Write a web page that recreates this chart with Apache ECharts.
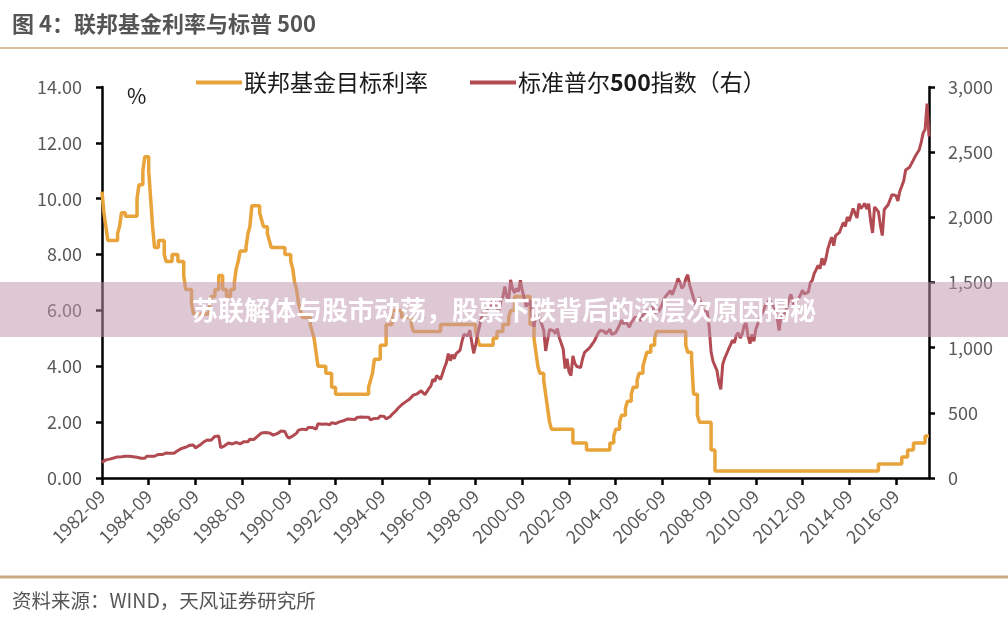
<!DOCTYPE html>
<html>
<head>
<meta charset="utf-8">
<script src="https://cdn.jsdelivr.net/npm/echarts@6/dist/echarts.min.js"></script>
<style>
html,body{margin:0;padding:0;background:#fff;}
#chart{width:1008px;height:620px;}
</style>
</head>
<body>
<div id="chart"></div>
<script>
// ---- Data ----
const titleText = '图 4：联邦基金利率与标普 500';
const sourceText = '资料来源：WIND，天风证券研究所';
const bannerText = '苏联解体与股市动荡，股票下跌背后的深层次原因揭秘';
const seriesNames = ['联邦基金目标利率', '标准普尔500指数（右）'];
const leftTicks = [0, 14, 2];      // min, max, interval
const rightTicks = [0, 3000, 500];

// monthly categories 1982-09 .. 2018-02
const categories = [];
for (let y = 1982; y <= 2018; y++) {
  for (let m = 1; m <= 12; m++) {
    if (y === 1982 && m < 9) continue;
    if (y === 2018 && m > 2) break;
    categories.push(y + '-' + String(m).padStart(2, '0'));
  }
}

// Fed funds target rate: month when the level changes, and the new level (%)
const fedMonths = ['1982-09','1982-10','1982-11','1982-12','1983-05','1983-06','1983-07','1983-09',
 '1984-03','1984-04','1984-06','1984-07','1984-09','1984-10','1984-11','1984-12','1985-02','1985-05',
 '1985-06','1985-09','1985-12','1986-03','1986-04','1986-07','1986-08','1987-04','1987-05','1987-07',
 '1987-09','1987-11','1988-01','1988-03','1988-05','1988-06','1988-07','1988-08','1988-11','1988-12',
 '1989-01','1989-02','1989-06','1989-07','1989-08','1989-10','1989-11','1989-12','1990-07','1990-10',
 '1990-11','1990-12','1991-01','1991-02','1991-03','1991-04','1991-08','1991-09','1991-10','1991-11',
 '1991-12','1992-04','1992-07','1992-09','1994-02','1994-03','1994-04','1994-05','1994-08','1994-11',
 '1995-02','1995-07','1995-12','1996-01','1997-03','1998-09','1998-10','1998-11','1999-06','1999-08',
 '1999-11','2000-02','2000-03','2000-05','2001-01','2001-03','2001-04','2001-05','2001-06','2001-08',
 '2001-09','2001-10','2001-11','2001-12','2002-11','2003-06','2004-06','2004-08','2004-09','2004-11',
 '2004-12','2005-02','2005-03','2005-05','2005-06','2005-08','2005-09','2005-11','2005-12','2006-01',
 '2006-03','2006-05','2006-06','2007-09','2007-10','2007-12','2008-01','2008-03','2008-04','2008-10',
 '2008-12','2015-12','2016-12','2017-03','2017-06','2017-12','2018-02'];
const fedRates = [10.25,9.5,9.0,8.5,8.75,9.0,9.5,9.375,
 10.0,10.5,11.0,11.5,11.0,10.0,9.0,8.25,8.5,8.0,
 7.75,8.0,7.75,7.25,6.75,6.25,5.875,6.0,6.5,6.75,
 7.25,6.75,6.5,6.75,7.0,7.5,7.75,8.125,8.25,8.75,
 9.0,9.75,9.5,9.25,9.0,8.75,8.5,8.25,8.0,7.75,
 7.5,7.0,6.75,6.25,6.0,5.75,5.5,5.25,5.0,4.5,
 4.0,3.75,3.25,3.0,3.25,3.5,3.75,4.25,4.75,5.5,
 6.0,5.75,5.5,5.25,5.5,5.25,5.0,4.75,5.0,5.25,
 5.5,5.75,6.0,6.5,5.5,5.0,4.5,4.0,3.75,3.5,
 3.0,2.5,2.0,1.75,1.25,1.0,1.25,1.5,1.75,2.0,
 2.25,2.5,2.75,3.0,3.25,3.5,3.75,4.0,4.25,4.5,
 4.75,5.0,5.25,4.75,4.5,4.25,3.0,2.25,2.0,1.0,
 0.25,0.5,0.75,1.0,1.25,1.5,1.5];

// S&P 500 monthly level, 1982-09 .. 2018-02
const spx = [
 120,134,139,141,
 145,148,153,164,162,168,163,164,166,164,166,165,
 163,157,159,160,151,153,151,167,166,166,164,167,
 180,181,181,180,190,192,191,189,182,190,202,211,
 212,227,239,236,247,251,236,253,231,244,249,242,
 274,284,292,288,290,304,319,330,322,232,230,247,
 257,268,259,261,262,274,272,262,272,279,274,278,
 297,289,295,310,321,318,346,351,349,340,346,353,
 329,332,340,331,361,358,356,323,306,304,322,330,
 344,367,375,375,390,371,388,395,388,393,375,417,
 409,413,404,415,415,408,424,414,418,419,431,436,
 439,443,452,440,450,451,448,464,459,468,462,467,
 482,467,446,451,457,444,458,476,463,472,454,459,
 470,487,501,515,533,545,562,562,584,582,605,616,
 636,640,646,654,669,671,640,652,687,705,757,741,
 786,791,757,801,848,885,954,900,947,915,955,970,
 980,1049,1102,1112,1091,1134,1121,957,1017,1099,1164,1229,
 1280,1238,1286,1335,1302,1373,1329,1320,1283,1363,1389,1469,
 1394,1366,1520,1452,1421,1455,1431,1518,1437,1429,1315,1320,
 1366,1240,1160,1250,1256,1224,1211,1134,975,1060,1140,1148,
 1130,1107,1147,1077,1067,990,840,916,815,785,936,880,
 856,841,848,917,964,975,990,1008,996,1051,1058,1112,
 1131,1145,1126,1107,1121,1141,1102,1104,1115,1130,1174,1212,
 1181,1204,1181,1157,1192,1191,1234,1220,1229,1207,1250,1248,
 1280,1281,1295,1311,1270,1270,1277,1304,1336,1378,1401,1418,
 1438,1407,1421,1482,1531,1503,1455,1474,1527,1560,1481,1468,
 1379,1331,1323,1386,1400,1280,1267,1283,1166,969,896,903,
 826,735,680,873,919,919,988,1021,1057,1036,1096,1115,
 1074,1104,1169,1187,1089,1031,1102,1049,1141,1183,1181,1258,
 1286,1327,1326,1364,1345,1321,1292,1219,1131,1253,1247,1258,
 1312,1366,1409,1398,1310,1362,1379,1407,1441,1412,1416,1426,
 1498,1515,1569,1598,1631,1606,1686,1633,1682,1757,1806,1848,
 1783,1860,1872,1884,1924,1960,1931,2003,1972,2018,2068,2059,
 1995,2105,2068,2086,2107,2063,2104,1972,1880,2079,2080,2044,
 1940,1860,2060,2065,2097,2099,2174,2171,2168,2126,2199,2239,
 2279,2364,2363,2384,2412,2423,2470,2472,2519,2575,2648,2674,
 2872,2620
];

// ---- Chart ----
const FONT = '"Noto Sans CJK SC", "Noto Sans", sans-serif';
const fedData = fedMonths.map((m, i) => [m, fedRates[i]]);
const chart = echarts.init(document.getElementById('chart'), null, {renderer: 'canvas'});

chart.setOption({
  animation: false,
  backgroundColor: '#ffffff',
  textStyle: {fontFamily: FONT},
  grid: {left: 102, right: 79, top: 87, bottom: 142, containLabel: false},
  legend: {
    left: 191, top: 66,
    itemWidth: 46, itemHeight: 4, itemGap: 42,
    icon: 'rect',
    data: seriesNames,
    textStyle: {fontSize: 23, color: '#1a1a1a', fontFamily: FONT, padding: [0, 0, 0, -3],
      rich: {b: {fontSize: 23, fontWeight: 'bold', color: '#1a1a1a', fontFamily: FONT}}},
    formatter: name => name.replace('500', '{b|500}')
  },
  xAxis: {
    type: 'category',
    data: categories,
    boundaryGap: false,
    axisLine: {show: true, lineStyle: {color: '#000', width: 2.5}},
    axisTick: {show: true, interval: 23, length: 7, lineStyle: {color: '#000', width: 2.5}},
    axisLabel: {interval: 23, rotate: 45, fontSize: 18, color: '#595959', margin: 15, fontFamily: FONT},
    splitLine: {show: false}
  },
  yAxis: [{
    type: 'value', position: 'left',
    min: leftTicks[0], max: leftTicks[1], interval: leftTicks[2],
    axisLine: {show: true, lineStyle: {color: '#000', width: 2.5}},
    axisTick: {show: true, length: 6, lineStyle: {color: '#000', width: 2.5}},
    axisLabel: {formatter: v => v.toFixed(2), fontSize: 18, color: '#595959', margin: 20, fontFamily: FONT},
    splitLine: {show: false}
  }, {
    type: 'value', position: 'right',
    min: rightTicks[0], max: rightTicks[1], interval: rightTicks[2],
    axisLine: {show: true, lineStyle: {color: '#000', width: 2.5}},
    axisTick: {show: true, length: 6, lineStyle: {color: '#000', width: 2.5}},
    axisLabel: {formatter: v => v.toLocaleString('en-US'), fontSize: 18, color: '#595959', margin: 19, fontFamily: FONT},
    splitLine: {show: false}
  }],
  series: [{
    name: seriesNames[0],
    type: 'line',
    step: 'end',
    yAxisIndex: 0,
    data: fedData,
    showSymbol: false,
    color: '#E8A33A',
    lineStyle: {color: '#E8A33A', width: 3.5}
  }, {
    name: seriesNames[1],
    type: 'line',
    yAxisIndex: 1,
    data: spx,
    showSymbol: false,
    color: '#B24A52',
    lineStyle: {color: '#B24A52', width: 3}
  }],
  graphic: [
    {type: 'text', left: 12, top: 13, style: {text: titleText, font: 'bold 22px ' + FONT, fill: '#555555'}},
    {type: 'line', shape: {x1: 0, y1: 48, x2: 1008, y2: 48}, style: {stroke: '#D8C09C', lineWidth: 2}},
    {type: 'line', shape: {x1: 0, y1: 577, x2: 1008, y2: 577}, style: {stroke: '#C9AD82', lineWidth: 3}},
    {type: 'text', x: 12, y: 601, style: {text: sourceText, font: '19.5px ' + FONT, fill: '#555555', textVerticalAlign: 'middle'}},
    {type: 'text', x: 127, y: 96, style: {text: '%', font: '21px ' + FONT, fill: '#1a1a1a', textVerticalAlign: 'middle'}},
    {type: 'rect', z: 100, shape: {x: 0, y: 282, width: 1008, height: 55}, style: {fill: 'rgba(192,150,173,0.52)'}},
    {type: 'text', z: 101, x: 504, y: 310, style: {text: bannerText, font: 'bold 26px ' + FONT, fill: '#ffffff', textAlign: 'center', textVerticalAlign: 'middle'}}
  ]
});
</script>
</body>
</html>
